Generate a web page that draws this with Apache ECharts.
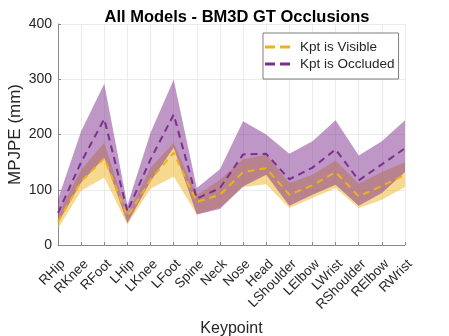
<!DOCTYPE html>
<html>
<head>
<meta charset="utf-8">
<script src="https://cdn.jsdelivr.net/npm/echarts@6/dist/echarts.min.js"></script>
<style>
  html, body { margin: 0; padding: 0; background: #fff; }
  #chart { width: 449px; height: 336px; }
</style>
</head>
<body>
<div id="chart"></div>
<script>
const keypoints = ['RHip', 'RKnee', 'RFoot', 'LHip', 'LKnee', 'LFoot', 'Spine', 'Neck',
  'Nose', 'Head', 'LShoulder', 'LElbow', 'LWrist', 'RShoulder', 'RElbow', 'RWrist'];

// Kpt is Visible: mean and shaded band
const visMean = [42, 115, 157, 52, 118, 167, 78, 91, 132, 139, 91, 108, 132, 88, 107, 127];
const visLow = [30, 98, 122, 37, 102, 124, 55, 68, 105, 110, 67, 85, 103, 67, 82, 105];
const visHigh = [55, 136, 185, 55, 140, 185, 90, 118, 155, 164, 112, 127, 153, 111, 132, 150];

// Kpt is Occluded: mean and shaded band
const occMean = [58, 150, 228, 61, 155, 236, 84, 103, 164, 165, 119, 140, 173, 117, 146, 175];
const occLow = [40, 113, 158, 40, 115, 176, 55, 65, 106, 127, 71, 91, 109, 71, 94, 132];
const occHigh = [83, 206, 292, 72, 203, 299, 103, 137, 224, 200, 165, 188, 226, 162, 188, 226];

const yTicks = [0, 100, 200, 300, 400];

const YELLOW = '#EDB120';
const PURPLE = '#7E2F8E';
const FONT = '"Liberation Sans", Arial, sans-serif';

function band(stack, low, high, color) {
  // transparent base + (high - low) filled on top
  return [
    {
      type: 'line', stack: stack, data: low, silent: true,
      showSymbol: false, lineStyle: { opacity: 0 }, areaStyle: { opacity: 0 },
    },
    {
      type: 'line', stack: stack, data: high.map((h, i) => h - low[i]), silent: true,
      showSymbol: false, lineStyle: { opacity: 0 },
      areaStyle: { color: color, opacity: 0.5 },
    },
  ];
}

const chart = echarts.init(document.getElementById('chart'));

chart.setOption({
  animation: false,
  textStyle: { fontFamily: FONT },
  title: {
    text: 'All Models - BM3D GT Occlusions',
    left: 232, top: 4, textAlign: 'center',
    textStyle: { fontSize: 16.5, fontWeight: 'bold', color: '#000', fontFamily: FONT },
  },
  legend: {
    data: ['Kpt is Visible', 'Kpt is Occluded'],
    orient: 'vertical', left: 263, top: 33,
    padding: [7, 4, 8, 2],
    itemGap: 3, itemWidth: 25, itemHeight: 3,
    icon: 'path://M0,0H10V3H0Z M15,0H25V3H15Z',
    borderColor: '#7f7f7f', borderWidth: 1, backgroundColor: '#fff',
    textStyle: { fontSize: 13.5, color: '#262626', fontFamily: FONT, padding: [0, 0, 0, 5] },
  },
  grid: { left: 58, right: 44, top: 24, bottom: 91, outerBoundsMode: 'none' },
  xAxis: {
    type: 'category', data: keypoints, boundaryGap: false,
    name: 'Keypoint', nameLocation: 'middle', nameGap: 76,
    nameTextStyle: { fontSize: 16, color: '#262626' },
    axisLine: { lineStyle: { color: '#8a8a8a', width: 1 } },
    axisTick: { show: true, inside: true, length: 3, interval: 0, lineStyle: { color: '#8a8a8a' } },
    axisLabel: { rotate: 45, interval: 0, fontSize: 13.5, color: '#262626', margin: 12, verticalAlign: 'top' },
    splitLine: { show: true, interval: 0, lineStyle: { color: '#ebebeb' } },
  },
  yAxis: {
    type: 'value', min: yTicks[0], max: yTicks[yTicks.length - 1], interval: 100,
    name: 'MPJPE (mm)', nameLocation: 'middle', nameGap: 34, nameMoveOverlap: false,
    nameTextStyle: { fontSize: 17, color: '#262626' },
    axisLine: { show: true, lineStyle: { color: '#8a8a8a', width: 1 } },
    axisTick: { show: true, inside: true, length: 3, lineStyle: { color: '#8a8a8a' } },
    axisLabel: { fontSize: 14, color: '#262626', margin: 6 },
    splitLine: { show: true, lineStyle: { color: '#ebebeb' } },
  },
  series: [
    ...band('vis', visLow, visHigh, YELLOW),
    ...band('occ', occLow, occHigh, PURPLE),
    {
      name: 'Kpt is Visible', type: 'line', data: visMean, showSymbol: false,
      itemStyle: { color: YELLOW },
      lineStyle: { color: YELLOW, width: 2, type: [7, 5] },
    },
    {
      name: 'Kpt is Occluded', type: 'line', data: occMean, showSymbol: false,
      itemStyle: { color: PURPLE },
      lineStyle: { color: PURPLE, width: 2, type: [7, 5] },
    },
  ],
});
</script>
</body>
</html>
